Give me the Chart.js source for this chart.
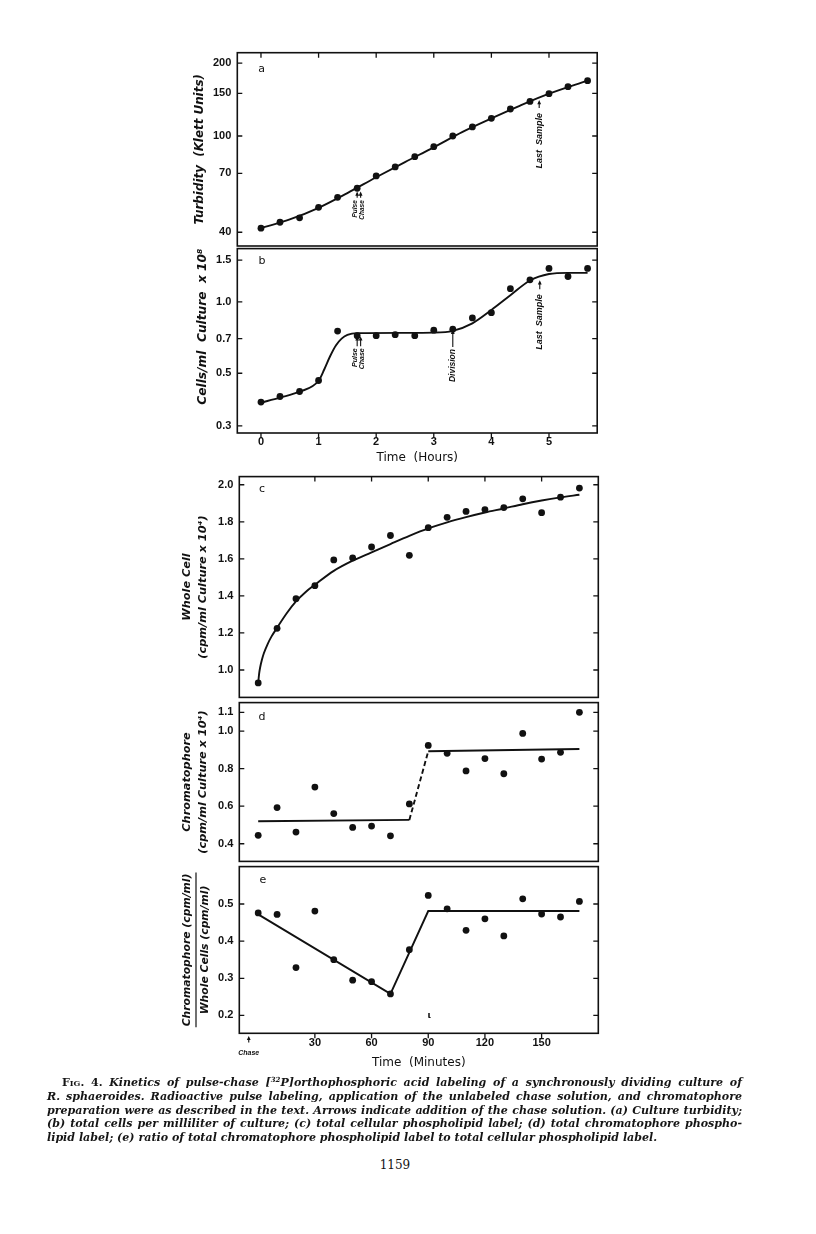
<!DOCTYPE html>
<html><head><meta charset="utf-8">
<script src="https://cdn.jsdelivr.net/npm/chart.js@4.4.1/dist/chart.umd.min.js"></script>
<style>
html,body{margin:0;padding:0;background:#fff;}
body{width:816px;height:1234px;position:relative;overflow:hidden;}
canvas{position:absolute;left:0;}
.cap{position:absolute;left:47px;width:695px;height:14px;font-family:"DejaVu Serif";font-style:italic;font-weight:bold;font-size:11.05px;line-height:14px;color:#151515;white-space:nowrap;}
.j{text-align:justify;text-align-last:justify;}
.sup{font-size:7px;line-height:0;vertical-align:4px;}
#pg{position:absolute;left:345px;width:100px;top:1158px;text-align:center;font-family:"DejaVu Serif";font-size:12px;color:#151515;}
</style></head><body>
<canvas id="ca" width="816" height="240" style="top:20px"></canvas>
<canvas id="cb" width="816" height="240" style="top:236px"></canvas>
<canvas id="cc" width="816" height="246" style="top:464px"></canvas>
<canvas id="cd" width="816" height="184" style="top:690px"></canvas>
<canvas id="ce" width="816" height="216" style="top:854px"></canvas>
<div class="cap j" style="top:1076px;left:62px;width:680px"><span style="font-style:normal;font-variant:small-caps">Fig. 4.</span> Kinetics of pulse-chase [<span class="sup">32</span>P]orthophosphoric acid labeling of a synchronously dividing culture of</div>
<div class="cap j" style="top:1090px">R. sphaeroides. Radioactive pulse labeling, application of the unlabeled chase solution, and chromatophore</div>
<div class="cap j" style="top:1103.5px">preparation were as described in the text. Arrows indicate addition of the chase solution. (a) Culture turbidity;</div>
<div class="cap j" style="top:1117px">(b) total cells per milliliter of culture; (c) total cellular phospholipid label; (d) total chromatophore phospho-</div>
<div class="cap" style="top:1130.5px">lipid label; (e) ratio of total chromatophore phospholipid label to total cellular phospholipid label.</div>
<div id="pg">1159</div>
<script>
// ---------- data ----------
const HOURS = [0,0.33,0.67,1,1.33,1.67,2,2.33,2.67,3,3.33,3.67,4,4.33,4.67,5,5.33,5.67];
const TURBIDITY = [41.6,44.0,45.9,50.7,55.8,60.8,68.4,74.5,82.1,90.3,100,109,118.3,129.3,139,149.6,159.8,169.3];
const TURB_FIT_H = [0,0.5,1,1.5,2,2.5,3,3.5,4,4.5,5,5.67];
const TURB_FIT = [41.6,45.2,50.5,58.1,67.5,78,89.8,104,118.2,133.5,149.5,169.5];
const CELLS = [0.378,0.399,0.419,0.466,0.753,0.720,0.720,0.727,0.720,0.760,0.767,0.856,0.900,1.136,1.238,1.384,1.279,1.384];
const CELLS_FIT_H = [0,0.33,0.67,1.0,1.1,1.2,1.3,1.4,1.5,1.67,2.5,3.0,3.33,3.67,4.0,4.33,4.67,5.0,5.33,5.67];
const CELLS_FIT = [0.376,0.395,0.418,0.465,0.52,0.59,0.655,0.70,0.725,0.738,0.74,0.742,0.755,0.812,0.924,1.066,1.23,1.31,1.325,1.325];
const MINUTES = [0,10,20,30,40,50,60,70,80,90,100,110,120,130,140,150,160,170];
const WHOLE_CELL = [0.930,1.225,1.385,1.455,1.594,1.605,1.664,1.726,1.619,1.768,1.824,1.856,1.866,1.877,1.924,1.849,1.933,1.982];
const WHOLE_FIT_M = [0,0.5,1,2,3,5,7,10,15,20,25,30,40,50,60,70,80,90,100,110,120,130,140,150,160,170];
const WHOLE_FIT = [0.93,0.98,1.012,1.056,1.09,1.14,1.18,1.228,1.305,1.37,1.42,1.46,1.535,1.59,1.635,1.68,1.724,1.764,1.797,1.825,1.85,1.872,1.895,1.915,1.932,1.946];
const CHROMO = [0.445,0.593,0.462,0.702,0.561,0.487,0.494,0.442,0.612,0.924,0.882,0.788,0.854,0.773,0.988,0.851,0.887,1.10];
const CHROMO_FIT_M = [0,80,90,170];
const CHROMO_FIT = [0.52,0.527,0.893,0.905];
const RATIO = [0.476,0.472,0.329,0.481,0.350,0.295,0.291,0.258,0.377,0.523,0.487,0.429,0.460,0.414,0.514,0.473,0.465,0.507];
const RATIO_FIT_M = [0,70,90,170];
const RATIO_FIT = [0.472,0.258,0.481,0.481];
const HOUR_TICKS = [0,1,2,3,4,5];
const MINUTE_TICKS = [30,60,90,120,150];
const TURB_TICKS = [40,70,100,150,200];
const CELL_TICKS = [0.3,0.5,0.7,1.0,1.5];
const WHOLE_TICKS = [1.0,1.2,1.4,1.6,1.8,2.0];
const CHROMO_TICKS = [0.4,0.6,0.8,1.0,1.1];
const RATIO_TICKS = [0.2,0.3,0.4,0.5];

// ---------- helpers ----------
const INK = '#111';
const TFAM = 'DejaVu Sans';
const pts = (xs, ys) => xs.map((x, i) => ({x, y: ys[i]}));
const tickFont = {family: 'Liberation Sans', size: 11, weight: 'bold'};
const titleFont = (s, lh) => ({family: TFAM, size: s, weight: 'bold', style: 'italic', lineHeight: lh || 1.2});

const framePlugin = {
  id: 'frame',
  afterDatasetsDraw(chart, args, o) {
    const {ctx, chartArea: a, scales: {x, y}} = chart;
    ctx.save();
    ctx.strokeStyle = INK; ctx.fillStyle = INK;
    ctx.lineWidth = 1.6;
    ctx.strokeRect(a.left, a.top, a.right - a.left, a.bottom - a.top);
    ctx.lineWidth = 1.3;
    const L = 5;
    ctx.beginPath();
    (o.yTicks || []).forEach(v => { const p = y.getPixelForValue(v);
      ctx.moveTo(a.left, p); ctx.lineTo(a.left + L, p);
      ctx.moveTo(a.right, p); ctx.lineTo(a.right - L, p); });
    (o.topTicks || []).forEach(v => { const p = x.getPixelForValue(v);
      ctx.moveTo(p, a.top); ctx.lineTo(p, a.top + L); });
    (o.bottomTicks || []).forEach(v => { const p = x.getPixelForValue(v);
      ctx.moveTo(p, a.bottom); ctx.lineTo(p, a.bottom + L); });
    ctx.stroke();
    if (o.letter) {
      ctx.font = '11px "DejaVu Sans"'; ctx.textAlign = 'center'; ctx.textBaseline = 'middle';
      ctx.fillText(o.letter, a.left + o.letterDx, a.top + o.letterDy);
    }
    (o.notes || []).forEach(n => {
      const px = x.getPixelForValue(n.x);
      const pTip = y.getPixelForValue(n.tip), pTail = y.getPixelForValue(n.tail);
      ctx.lineWidth = 1.1;
      ctx.beginPath(); ctx.moveTo(px, pTail); ctx.lineTo(px, pTip + 2); ctx.stroke();
      ctx.beginPath(); ctx.moveTo(px, pTip); ctx.lineTo(px - 1.9, pTip + 4.2); ctx.lineTo(px + 1.9, pTip + 4.2); ctx.closePath(); ctx.fill();
      if (n.label) {
        ctx.font = 'italic bold ' + n.size + 'px "Liberation Sans"';
        if (n.upright) {
          ctx.textAlign = 'center'; ctx.textBaseline = 'middle';
          ctx.fillText(n.label, px + (n.dx || 0), pTail + n.gap);
        } else {
          ctx.save();
          ctx.translate(px + (n.dx || 0), pTail + n.gap);
          ctx.rotate(-Math.PI / 2);
          ctx.textAlign = 'right'; ctx.textBaseline = 'middle';
          ctx.fillText(n.label, 0, 0);
          ctx.restore();
        }
      }
    });
    (o.marks || []).forEach(m => {
      ctx.font = 'bold 9px "DejaVu Sans"'; ctx.textAlign = 'center'; ctx.textBaseline = 'middle';
      ctx.fillText(m.t, x.getPixelForValue(m.x), y.getPixelForValue(m.y));
    });
    if (o.fractionRule) {
      const t = chart.options.scales.y.title;
      const f = t.font; const lh = f.size * f.lineHeight;
      ctx.font = 'italic bold ' + f.size + 'px "' + TFAM + '"';
      const w = Math.max(...t.text.map(s => ctx.measureText(s).width));
      const cx = y.left + lh;
      const cy = (a.top + a.bottom) / 2;
      ctx.lineWidth = 1.2;
      ctx.beginPath(); ctx.moveTo(cx, cy - w / 2 - 1); ctx.lineTo(cx, cy + w / 2 + 1); ctx.stroke();
    }
    ctx.restore();
  }
};

function panel(id, spec) {
  const yAxis = {
    type: spec.yType || 'linear', min: spec.yMin, max: spec.yMax,
    afterFit: s => { s.width = spec.yWidth; },
    afterBuildTicks: s => { s.ticks = spec.yTicks.map(v => ({value: v})); },
    grid: {display: false, drawTicks: false}, border: {display: false},
    ticks: {font: tickFont, color: INK, padding: spec.yPad || 6, autoSkip: false,
            callback: spec.yFmt},
    title: {display: true, text: spec.yTitle, font: spec.yTitleFont, color: INK,
            align: spec.yTitleAlign || 'center', padding: {top: 0, bottom: 0}}
  };
  const xAxis = {
    type: 'linear', min: spec.xMin, max: spec.xMax,
    display: !!spec.xTicks,
    grid: {display: false, drawTicks: false}, border: {display: false},
    afterFit: s => { s.height = spec.xHeight || 0; },
    afterBuildTicks: s => { s.ticks = (spec.xTicks || []).map(v => ({value: v})); },
    ticks: {font: tickFont, color: INK, padding: spec.xPad || 3, maxRotation: 0, autoSkip: false,
            callback: v => String(v)},
    title: {display: !!spec.xTitle, text: spec.xTitle,
            font: {family: 'DejaVu Sans', size: 12, lineHeight: 1.2}, color: INK,
            padding: {top: 0, bottom: spec.xTitlePad || 0}}
  };
  return new Chart(document.getElementById(id), {
    type: 'scatter',
    data: {datasets: spec.datasets},
    options: {
      responsive: false, animation: false, events: [],
      layout: {padding: {left: spec.padLeft, right: spec.padRight, top: spec.padTop, bottom: spec.padBottom}},
      scales: {x: xAxis, y: yAxis},
      plugins: {legend: {display: false}, tooltip: {enabled: false}, frame: spec.frame}
    },
    plugins: [framePlugin]
  });
}
const dots = d => ({data: d, pointRadius: 3.4, pointBackgroundColor: INK, pointBorderWidth: 0, showLine: false, order: 1, clip: false});
const curve = (d, extra) => Object.assign({data: d, showLine: true, pointRadius: 0, borderColor: INK, borderWidth: 1.9,
  cubicInterpolationMode: 'monotone', order: 2, clip: false}, extra || {});

// (a) turbidity
panel('ca', {
  yType: 'logarithmic', yMin: 35.1, yMax: 220.9, yTicks: TURB_TICKS, yFmt: v => String(v),
  yWidth: 44.5, padLeft: 192.8, padRight: 218.8, padTop: 32.7, padBottom: 14,
  yTitle: 'Turbidity  (Klett Units)', yTitleFont: titleFont(11.9),
  xMin: -0.411, xMax: 5.837,
  datasets: [dots(pts(HOURS, TURBIDITY)), curve(pts(TURB_FIT_H, TURB_FIT))],
  frame: {yTicks: TURB_TICKS, topTicks: HOUR_TICKS, letter: 'a', letterDx: 24.4, letterDy: 16.3,
    notes: [
      {x: 1.67, tip: 58.9, tail: 55.6, label: 'Pulse', size: 6.5, dx: -1.8, gap: 2.5},
      {x: 1.73, tip: 58.9, tail: 55.6, label: 'Chase', size: 6.5, dx: 1.6, gap: 2.5},
      {x: 4.83, tip: 140.8, tail: 130.5, label: 'Last  Sample', size: 9, dx: 0, gap: 5}
    ]}
});
// (b) cells
panel('cb', {
  yType: 'logarithmic', yMin: 0.280, yMax: 1.677, yTicks: CELL_TICKS, yFmt: v => v.toFixed(1),
  yWidth: 41.5, padLeft: 195.8, padRight: 218.8, padTop: 10, padBottom: 0,
  yTitle: 'Cells/ml  Culture  x 10\u2078', yTitleFont: titleFont(12.2), yTitleAlign: 'end',
  xMin: -0.411, xMax: 5.837, xTicks: HOUR_TICKS, xHeight: 43, xPad: 2.4, xTitle: 'Time  (Hours)', xTitlePad: 10.8,
  datasets: [dots(pts(HOURS, CELLS)), curve(pts(CELLS_FIT_H, CELLS_FIT))],
  frame: {yTicks: CELL_TICKS, bottomTicks: HOUR_TICKS, letter: 'b', letterDx: 24.7, letterDy: 13,
    notes: [
      {x: 1.67, tip: 0.715, tail: 0.650, label: 'Pulse', size: 7, dx: -1.8, gap: 2},
      {x: 1.73, tip: 0.715, tail: 0.650, label: 'Chase', size: 7, dx: 1.6, gap: 2},
      {x: 3.33, tip: 0.763, tail: 0.645, label: 'Division', size: 8.5, dx: 0, gap: 2},
      {x: 4.84, tip: 1.234, tail: 1.13, label: 'Last  Sample', size: 9, dx: 0, gap: 5}
    ]}
});
// (c) whole cell
panel('cc', {
  yMin: 0.852, yMax: 2.044, yTicks: WHOLE_TICKS, yFmt: v => v.toFixed(1),
  yWidth: 60.3, padLeft: 179, padRight: 217.7, padTop: 10, padBottom: 10,
  yTitle: ['Whole Cell', '(cpm/ml Culture x 10\u2074)'], yTitleFont: titleFont(11.3, 16 / 11.3),
  xMin: -10, xMax: 180,
  datasets: [dots(pts(MINUTES, WHOLE_CELL)), curve(pts(WHOLE_FIT_M, WHOLE_FIT))],
  frame: {yTicks: WHOLE_TICKS, topTicks: MINUTE_TICKS, letter: 'c', letterDx: 22.7, letterDy: 13}
});
// (d) chromatophore
panel('cd', {
  yMin: 0.306, yMax: 1.152, yTicks: CHROMO_TICKS, yFmt: v => v.toFixed(1),
  yWidth: 60.3, padLeft: 179, padRight: 217.7, padTop: 10.7, padBottom: 10.7,
  yTitle: ['Chromatophore', '(cpm/ml Culture x 10\u2074)'], yTitleFont: titleFont(11.3, 16 / 11.3),
  xMin: -10, xMax: 180,
  datasets: [dots(pts(MINUTES, CHROMO)), curve(pts(CHROMO_FIT_M, CHROMO_FIT), {
    cubicInterpolationMode: 'default', tension: 0,
    segment: {borderDash: c => c.p0DataIndex === 1 ? [5, 3] : undefined}})],
  frame: {yTicks: CHROMO_TICKS, letter: 'd', letterDx: 22.7, letterDy: 14.3}
});
// (e) ratio
panel('ce', {
  yMin: 0.152, yMax: 0.6006, yTicks: RATIO_TICKS, yFmt: v => v.toFixed(1),
  yWidth: 61.3, padLeft: 178, padRight: 217.7, padTop: 10, padBottom: 0,
  yTitle: ['Chromatophore (cpm/ml)', 'Whole Cells (cpm/ml)'], yTitleFont: titleFont(10.8, 18 / 10.8),
  xMin: -10, xMax: 180, xTicks: MINUTE_TICKS, xHeight: 36.7, xPad: 3.1, xTitle: 'Time  (Minutes)', xTitlePad: 0.1,
  datasets: [dots(pts(MINUTES, RATIO)), curve(pts(RATIO_FIT_M, RATIO_FIT), {cubicInterpolationMode: 'default', tension: 0})],
  frame: {yTicks: RATIO_TICKS, bottomTicks: MINUTE_TICKS, letter: 'e', letterDx: 23.7, letterDy: 13.7, fractionRule: true,
    notes: [{x: -5, tip: 0.145, tail: 0.127, label: 'Chase', size: 7, upright: true, gap: 10}],
    marks: [{t: '\u03b9', x: 90.5, y: 0.2}]}
});
</script>
</body></html>
